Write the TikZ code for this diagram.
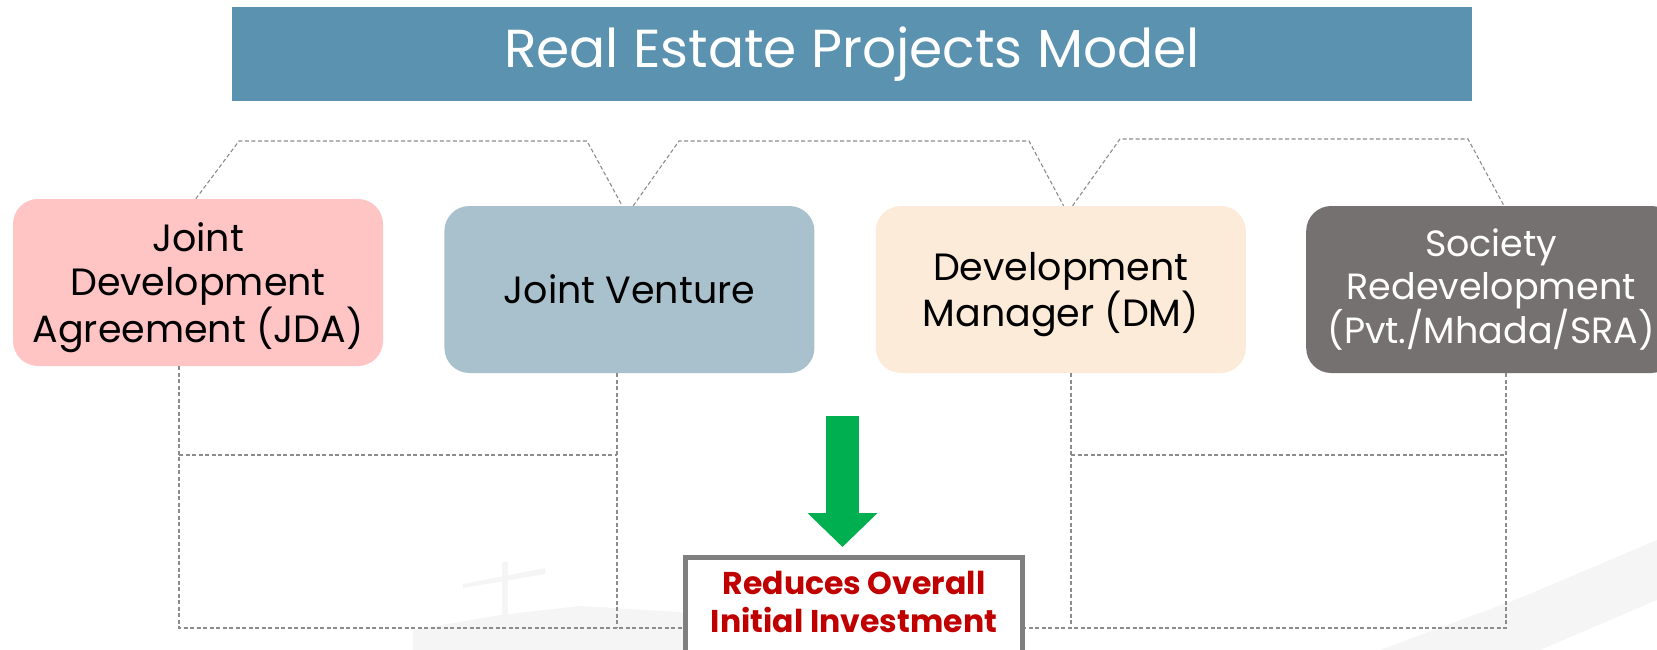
\documentclass[tikz,border=0pt]{standalone}
\usepackage{fontspec}
\setmainfont{Poppins}
\usetikzlibrary{arrows.meta, positioning}
\definecolor{bannerblue}{RGB}{91,146,176}
\definecolor{jdapink}{RGB}{255,196,196}
\definecolor{jvblue}{RGB}{169,193,205}
\definecolor{dmpeach}{RGB}{253,235,218}
\definecolor{srgray}{RGB}{118,113,113}
\definecolor{pushgreen}{RGB}{0,176,80}
\definecolor{outcomered}{RGB}{192,0,0}
\definecolor{framegray}{RGB}{127,127,127}
\definecolor{dashgray}{RGB}{140,140,140}
\definecolor{faint}{RGB}{245,245,245}
\tikzstyle{banner} = [fill=bannerblue, text=white, minimum width=1240pt, minimum height=94pt, inner sep=0pt, font=\fontsize{53.5}{64}\selectfont]
\tikzstyle{model} = [rectangle, rounded corners=25pt, minimum width=370pt, minimum height=167pt, inner sep=0pt, align=center, font=\fontsize{38}{44}\selectfont]
\tikzstyle{outline} = [draw=dashgray, line width=1.1pt, dash pattern=on 4pt off 2.5pt]
\tikzstyle{outcome} = [draw=framegray, line width=5pt, fill=white, minimum width=337pt, inner xsep=0pt, inner ysep=14pt, text height=61pt, text depth=40pt, align=center, text=outcomered, font=\fontsize{31.5}{38}\selectfont\bfseries]
\tikzstyle{push} = [draw=pushgreen, line width=33pt, -{Triangle[length=34pt, width=68pt]}, shorten >=7.5pt]

\begin{document}
\begin{tikzpicture}[x=1pt, y=-1pt, node distance=61pt]
    \useasboundingbox (0,0) rectangle (1657,650);

    % Watermark.
    \fill [faint] (413,650) -- (413,630) -- (500,615) -- (580,606) -- (680,612) -- (700,620) -- (700,650) -- cycle;
    \fill [faint] (502,562) rectangle (508,617);
    \fill [faint] (463,584) -- (545,568) -- (545,574) -- (463,588) -- cycle;
    \fill [faint] (1380,650) -- (1520,598) -- (1657,540) -- (1657,600) -- (1540,650) -- cycle;

    \node (title) [banner] at (852,54) {Real Estate Projects Model};
    \node (jda) [model, fill=jdapink, text depth=0pt] at (198,282.5) {Joint\\Development\\Agreement (JDA)};
    \node (jv) [model, fill=jvblue, right=of jda, yshift=-7pt] {Joint Venture};
    \node (dm) [model, fill=dmpeach, text depth=0pt, right=of jv] {Development\\Manager (DM)};
    \node (sr) [model, fill=srgray, text=white, right=60pt of dm, font=\fontsize{36.5}{43}\selectfont] {Society\\Redevelopment\\(Pvt./Mhada/SRA)};

    \coordinate (roof a) at (239,141);
    \coordinate (roof b) at (587,141);
    \coordinate (roof c) at (679,141);
    \coordinate (roof d) at (1029,141);
    \coordinate (roof e) at (1120,139);
    \coordinate (roof f) at (1468,139);
    \coordinate (base a) at (179,628);
    \coordinate (base b) at (617,628);
    \coordinate (base c) at (1071,628);
    \coordinate (base d) at (1506,628);
    \coordinate (floor) at (0,455);

    % Roofs.
    \draw [outline] ([xshift=183pt]jda.north west) -- (roof a) -- (roof b) -- ([xshift=178pt]jv.north west);
    \draw [outline] ([xshift=189pt]jv.north west) -- (roof c) -- (roof d) -- ([xshift=188pt]dm.north west);
    \draw [outline] ([xshift=197pt]dm.north west) -- (roof e) -- (roof f) -- ([xshift=198pt]sr.north west);

    % Walls and floors.
    \draw [outline] (jda.south -| base a) -- (base a) -- (base d) -- (sr.south -| base d);
    \draw [outline] (jv.south -| base b) -- (base b);
    \draw [outline] (dm.south -| base c) -- (base c);
    \draw [outline] (base a |- floor) -- (base b |- floor);
    \draw [outline] (base c |- floor) -- (base d |- floor);

    \node (outcome) [outcome, anchor=north] at (854,554.5) {Reduces Overall\\Initial Investment};
    \coordinate (push top) at (842.5,416);
    \draw [push] (push top) -- (outcome.north -| push top);
\end{tikzpicture}
\end{document}
